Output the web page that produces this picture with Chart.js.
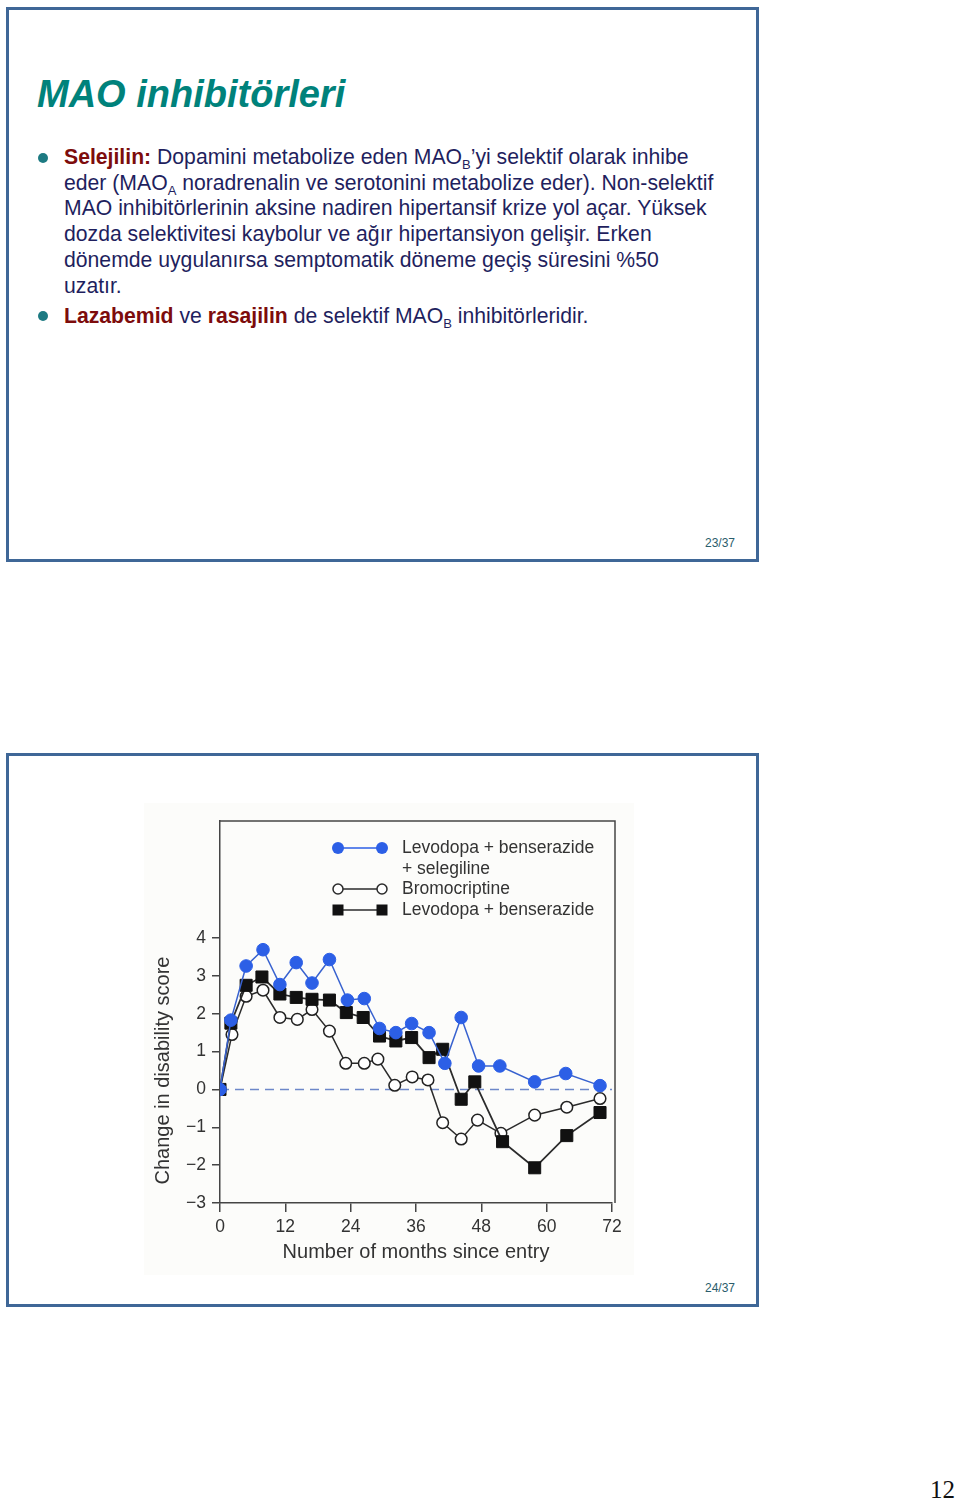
<!DOCTYPE html>
<html>
<head>
<meta charset="utf-8">
<script src="https://cdn.jsdelivr.net/npm/chart.js@4.4.0/dist/chart.umd.min.js"></script>
<style>
  body { margin: 0; width: 960px; height: 1503px; position: relative; overflow: hidden; background: #fff;
         font-family: "Liberation Sans", Arial, sans-serif; }
  .slide { position: absolute; left: 6px; width: 747px; border: 3px solid #3f6797; background: #fff; }
  .title { position: absolute; left: 37px; top: 73px; font-size: 38px; font-weight: bold; font-style: italic;
           color: #00827b; white-space: nowrap; }
  .bullets { position: absolute; left: 64px; top: 144px; font-size: 21.2px; line-height: 25.7px; color: #1f1f5e;
             white-space: nowrap; }
  .bullets b { color: #7d0c0c; }
  .bullets sub { font-size: 13px; vertical-align: -5px; line-height: 0; }
  .dot { position: absolute; width: 10px; height: 10px; border-radius: 50%; background: #1d7a82; }
  .pg { position: absolute; font-size: 12px; color: #2a5d6b; }
  .scan { position: absolute; left: 144px; top: 803px; width: 490px; height: 472px; background: #fcfcfa; }
  #wrap { position: absolute; left: 140px; top: 800px; width: 500px; height: 480px; }
  .num { position: absolute; left: 930px; top: 1476px; font-family: "Liberation Serif", serif; font-size: 25px; color: #111; }
</style>
</head>
<body>
<div class="slide" style="top:7px; height:549px;"></div>
<div class="slide" style="top:753px; height:548px;"></div>

<div class="title">MAO inhibitörleri</div>
<div class="dot" style="left:38px; top:153px;"></div>
<div class="dot" style="left:38px; top:311px;"></div>
<div class="bullets">
  <b>Selejilin:</b> Dopamini metabolize eden MAO<sub>B</sub>’yi selektif olarak inhibe<br>
  eder (MAO<sub>A</sub> noradrenalin ve serotonini metabolize eder). Non-selektif<br>
  MAO inhibitörlerinin aksine nadiren hipertansif krize yol açar. Yüksek<br>
  dozda selektivitesi kaybolur ve ağır hipertansiyon gelişir. Erken<br>
  dönemde uygulanırsa semptomatik döneme geçiş süresini %50<br>
  uzatır.<br>
  <div style="height:5px"></div>
  <b>Lazabemid</b> ve <b>rasajilin</b> de selektif MAO<sub>B</sub> inhibitörleridir.
</div>
<div class="pg" style="left:705px; top:536px;">23/37</div>
<div class="pg" style="left:705px; top:1281px;">24/37</div>

<div class="scan"></div>
<div id="wrap"><canvas id="chart" width="500" height="480"></canvas></div>
<div class="num">12</div>

<script>
// months since entry and change in disability score
const seleMonths = [0, 2.0, 4.8, 7.9, 11.0, 14.0, 16.9, 20.1, 23.4, 26.5, 29.3, 32.3, 35.2, 38.4, 41.3, 44.3, 47.5, 51.4, 57.8, 63.5, 69.8];
const seleScores = [0, 1.83, 3.26, 3.69, 2.77, 3.35, 2.81, 3.43, 2.36, 2.40, 1.61, 1.50, 1.74, 1.50, 0.69, 1.90, 0.62, 0.62, 0.20, 0.42, 0.10];

const bromoMonths = [0, 2.2, 4.8, 7.9, 11.0, 14.2, 16.9, 20.1, 23.1, 26.5, 29.0, 32.1, 35.3, 38.2, 40.9, 44.3, 47.3, 51.6, 57.8, 63.7, 69.8];
const bromoScores = [0, 1.45, 2.46, 2.62, 1.90, 1.85, 2.11, 1.54, 0.69, 0.69, 0.80, 0.11, 0.33, 0.25, -0.88, -1.31, -0.81, -1.16, -0.68, -0.47, -0.24];

const levoMonths = [0, 2.0, 4.8, 7.7, 11.0, 14.0, 16.9, 20.1, 23.2, 26.3, 29.3, 32.3, 35.2, 38.4, 40.9, 44.3, 46.8, 51.9, 57.8, 63.7, 69.8];
const levoScores = [0, 1.75, 2.75, 2.97, 2.52, 2.43, 2.38, 2.36, 2.03, 1.90, 1.41, 1.28, 1.37, 0.84, 1.06, -0.26, 0.20, -1.38, -2.07, -1.22, -0.61];

const legendLabels = [["Levodopa + benserazide", "+ selegiline"], ["Bromocriptine"], ["Levodopa + benserazide"]];
const yTicks = [-3, -2, -1, 0, 1, 2, 3, 4];
const yTitle = "Change in disability score";

function pts(xs, ys) {
  return xs.map((x, i) => ({ x: x, y: ys[i] }));
}

const ink = "#2b2b2b";
const blue = "#2c5fe6";
const font = "'Liberation Sans', Arial, sans-serif";

// box around the plot, the y title (centred lower than chart.js would) and the legend inside the plot
const frameAndLegend = {
  id: "frameAndLegend",
  afterDraw(chart) {
    const ctx = chart.ctx;
    const a = chart.chartArea;
    ctx.save();
    ctx.strokeStyle = "#454545";
    ctx.lineWidth = 1.5;
    ctx.beginPath();
    ctx.moveTo(a.left, a.top);
    ctx.lineTo(a.right + 3, a.top);
    ctx.lineTo(a.right + 3, a.bottom);
    ctx.stroke();

    ctx.save();
    ctx.translate(a.left - 57, chart.scales.y.getPixelForValue(0.5));
    ctx.rotate(-Math.PI / 2);
    ctx.font = "20px " + font;
    ctx.fillStyle = "#333";
    ctx.textAlign = "center";
    ctx.textBaseline = "middle";
    ctx.fillText(yTitle, 0, 0);
    ctx.restore();

    const x1 = a.left + 118, x2 = a.left + 162, tx = a.left + 182;
    const rows = [a.top + 27, a.top + 68, a.top + 89];
    ctx.font = "17.5px " + font;
    ctx.textBaseline = "middle";
    legendLabels.forEach((lines, i) => {
      const y = rows[i];
      ctx.lineWidth = 1.5;
      ctx.strokeStyle = i === 0 ? blue : ink;
      ctx.beginPath();
      ctx.moveTo(x1, y);
      ctx.lineTo(x2, y);
      ctx.stroke();
      [x1, x2].forEach(x => {
        ctx.beginPath();
        if (i === 0) {
          ctx.fillStyle = blue;
          ctx.arc(x, y, 6, 0, Math.PI * 2);
          ctx.fill();
        } else if (i === 1) {
          ctx.fillStyle = "#fff";
          ctx.arc(x, y, 5, 0, Math.PI * 2);
          ctx.fill();
          ctx.stroke();
        } else {
          ctx.fillStyle = "#111";
          ctx.fillRect(x - 5.5, y - 5.5, 11, 11);
        }
      });
      ctx.fillStyle = "#333";
      lines.forEach((t, k) => ctx.fillText(t, tx, y + k * 21));
    });
    ctx.restore();
  }
};

new Chart(document.getElementById("chart").getContext("2d"), {
  type: "line",
  data: {
    datasets: [
      {
        label: "Levodopa + benserazide + selegiline",
        data: pts(seleMonths, seleScores),
        borderColor: "#3862cf",
        borderWidth: 1.5,
        pointRadius: 6.3,
        pointBackgroundColor: blue,
        pointBorderColor: blue,
        pointBorderWidth: 1,
        order: 0
      },
      {
        label: "Levodopa + benserazide",
        data: pts(levoMonths, levoScores),
        borderColor: ink,
        borderWidth: 1.8,
        pointStyle: "rect",
        pointRadius: 8.5,
        pointBackgroundColor: "#111",
        pointBorderColor: "#111",
        pointBorderWidth: 1,
        order: 1
      },
      {
        label: "Bromocriptine",
        data: pts(bromoMonths, bromoScores),
        borderColor: ink,
        borderWidth: 1.5,
        pointRadius: 5.8,
        pointBackgroundColor: "#fff",
        pointBorderColor: "#222",
        pointBorderWidth: 1.5,
        order: 2
      },
      {
        label: "zero",
        data: [{ x: 0, y: 0 }, { x: 72, y: 0 }],
        borderColor: "#6d88c9",
        borderWidth: 1.5,
        borderDash: [9, 6],
        pointRadius: 0,
        order: 3
      }
    ]
  },
  options: {
    responsive: false,
    animation: false,
    layout: { padding: { left: 7, right: 28, top: 21, bottom: 12 } },
    scales: {
      x: {
        type: "linear",
        min: 0,
        max: 72,
        afterFit: s => { s.height = 65; },
        ticks: { stepSize: 12, padding: 5, color: "#333", font: { size: 17.5, family: font } },
        grid: { drawOnChartArea: false, tickLength: 9, color: "#454545", lineWidth: 1.5 },
        border: { color: "#454545", width: 1.5 },
        title: { display: true, text: "Number of months since entry", color: "#333",
                 font: { size: 20, family: font } }
      },
      y: {
        min: -3,
        max: 7.09,
        afterFit: s => { s.width = 73; },
        afterBuildTicks: s => { s.ticks = yTicks.map(v => ({ value: v })); },
        ticks: {
          padding: 6,
          color: "#333",
          font: { size: 17.5, family: font },
          callback: v => (v < 0 ? "\u2212" + Math.abs(v) : String(v))
        },
        grid: { drawOnChartArea: false, tickLength: 8, color: "#454545", lineWidth: 1.5 },
        border: { color: "#454545", width: 1.5 },
        title: { display: false }
      }
    },
    plugins: {
      legend: { display: false },
      tooltip: { enabled: false }
    }
  },
  plugins: [frameAndLegend]
});
</script>
</body>
</html>
